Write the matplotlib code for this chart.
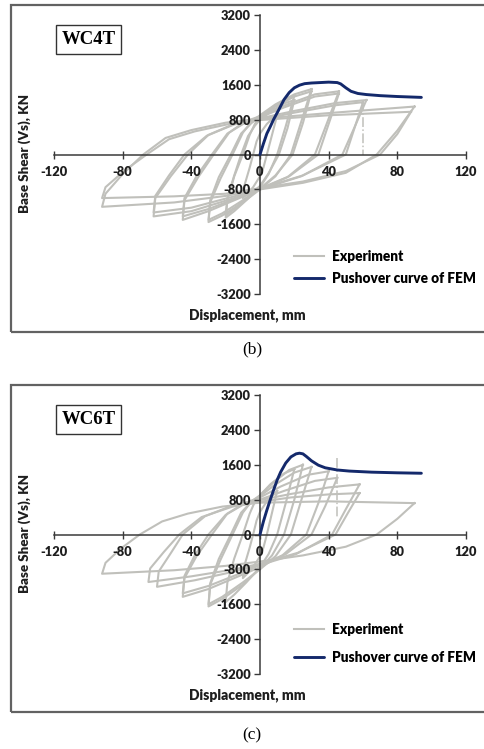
import matplotlib
matplotlib.use("Agg")
import matplotlib.pyplot as plt
from matplotlib.patches import Rectangle

# ---------------- data ----------------
x_ticks = [-120, -80, -40, 0, 40, 80, 120]
y_ticks = [-3200, -2400, -1600, -800, 0, 800, 1600, 2400, 3200]

# panel (b) WC4T : experimental hysteresis loops (disp mm, shear kN)
exp_b = [
    ([10, 7, 4, 2, 0, -4, -8, -10, -9, -6, -4, -2, 0, 4, 8, 10],
     [900, 450, 0, -300, -500, -750, -920, -1000, -700, -300, 0, 300, 480, 700, 850, 900]),
    ([20, 15, 10, 5, 0, -8, -15, -20, -19, -15, -10, -6, -3, 0, 6, 14, 20],
     [1350, 650, 0, -450, -750, -1050, -1300, -1450, -1050, -500, 0, 450, 700, 850, 1050, 1250, 1350]),
    ([20, 16, 11, 5, 0, -8, -15, -20, -19, -15, -11, -7, -3, 0, 6, 14, 20],
     [1250, 600, 0, -430, -720, -1000, -1250, -1400, -1000, -480, 0, 420, 660, 800, 980, 1170, 1250]),
    ([30, 24, 18, 9, 0, -10, -22, -30, -29, -23, -16, -10, -5, 0, 9, 20, 30],
     [1500, 750, 0, -500, -800, -1100, -1400, -1550, -1100, -550, 0, 500, 750, 900, 1150, 1380, 1500]),
    ([30, 25, 19, 9, 0, -10, -22, -30, -29, -24, -17, -11, -5, 0, 9, 20, 30],
     [1450, 720, 0, -480, -780, -1050, -1350, -1500, -1050, -520, 0, 480, 720, 860, 1100, 1330, 1450]),
    ([46, 39, 32, 16, 0, -12, -30, -45, -44, -36, -27, -18, -9, 0, 14, 32, 46],
     [1450, 720, 0, -520, -800, -1000, -1300, -1500, -1050, -520, 0, 500, 750, 880, 1120, 1380, 1450]),
    ([46, 40, 34, 17, 0, -12, -30, -45, -44, -37, -28, -19, -9, 0, 14, 32, 46],
     [1400, 700, 0, -500, -780, -980, -1250, -1420, -1000, -500, 0, 480, 720, 850, 1080, 1330, 1400]),
    ([62, 55, 48, 24, 0, -15, -40, -62, -61, -52, -42, -30, -14, 0, 20, 44, 62],
     [1250, 620, 0, -500, -800, -1000, -1300, -1420, -1000, -500, 0, 450, 720, 830, 1000, 1180, 1250]),
    ([60, 55, 50, 25, 0, -15, -40, -62, -61, -53, -44, -31, -15, 0, 20, 44, 60],
     [1200, 600, 0, -480, -780, -960, -1220, -1330, -950, -480, 0, 430, 690, 800, 960, 1130, 1200]),
    ([90, 80, 68, 50, 25, 0, -20, -50, -92, -90, -80, -68, -55, -40, -20, 0, 40, 90],
     [1100, 550, 0, -420, -650, -800, -950, -1100, -1200, -900, -450, 0, 380, 560, 730, 820, 950, 1100]),
    ([88, 80, 70, 50, 25, 0, -20, -50, -92, -90, -79, -66, -53, -38, -18, 0, 40, 88],
     [980, 470, 0, -380, -620, -770, -900, -960, -1000, -750, -370, 0, 350, 530, 700, 790, 900, 980]),
]
drop_b_x = [60, 60]
drop_b_y = [1220, 0]
push_b_x = [0, 2, 4, 6, 8, 11, 14, 17, 20, 23, 26, 30, 35, 40, 45, 47, 50, 53, 57, 62, 70, 80, 94]
push_b_y = [0, 250, 480, 640, 810, 1030, 1260, 1420, 1530, 1590, 1625, 1640, 1650, 1660,
            1650, 1620, 1530, 1450, 1400, 1375, 1350, 1330, 1310]

# panel (c) WC6T
exp_c = [
    ([10, 7, 4, 2, 0, -4, -8, -10, -9, -6, -4, -2, 0, 4, 8, 10],
     [1000, 500, 0, -300, -500, -750, -920, -1000, -700, -300, 0, 320, 520, 760, 930, 1000]),
    ([20, 15, 10, 5, 0, -8, -15, -20, -19, -15, -10, -6, -3, 0, 6, 14, 20],
     [1500, 720, 0, -450, -750, -1100, -1380, -1550, -1100, -550, 0, 480, 750, 900, 1150, 1400, 1500]),
    ([25, 20, 14, 7, 0, -10, -22, -30, -29, -23, -16, -10, -5, 0, 8, 17, 25],
     [1600, 800, 0, -480, -780, -1150, -1480, -1650, -1150, -580, 0, 500, 760, 900, 1200, 1480, 1600]),
    ([30, 24, 18, 9, 0, -10, -22, -30, -29, -24, -17, -11, -5, 0, 9, 20, 30],
     [1550, 780, 0, -500, -800, -1100, -1430, -1600, -1120, -560, 0, 500, 750, 880, 1150, 1420, 1550]),
    ([40, 34, 27, 13, 0, -12, -30, -45, -44, -37, -28, -19, -9, 0, 12, 28, 40],
     [1450, 720, 0, -480, -750, -950, -1250, -1430, -1000, -500, 0, 480, 720, 850, 1100, 1370, 1450]),
    ([45, 38, 30, 15, 0, -12, -30, -45, -44, -38, -30, -20, -10, 0, 14, 32, 45],
     [1300, 650, 0, -450, -700, -900, -1180, -1350, -950, -480, 0, 450, 680, 800, 1000, 1230, 1300]),
    ([58, 50, 42, 21, 0, -15, -38, -60, -59, -52, -45, -32, -15, 0, 18, 40, 58],
     [1150, 580, 0, -450, -700, -850, -1050, -1200, -850, -430, 0, 420, 680, 790, 930, 1080, 1150]),
    ([58, 51, 44, 22, 0, -15, -40, -65, -64, -56, -47, -34, -16, 0, 18, 40, 58],
     [950, 480, 0, -420, -670, -800, -960, -1090, -780, -400, 0, 400, 640, 750, 850, 920, 950]),
    ([90, 80, 68, 50, 25, 0, -20, -50, -92, -90, -81, -70, -57, -42, -22, 0, 40, 90],
     [720, 360, 0, -280, -480, -620, -720, -820, -900, -650, -320, 0, 300, 480, 640, 730, 760, 720]),
]
drop_c_x = [45, 45]
drop_c_y = [1766, 400]
push_c_x = [0, 2, 4, 6, 8, 10, 12, 15, 18, 21, 23, 25, 27, 30, 34, 38, 45, 52, 65, 80, 94]
push_c_y = [0, 300, 560, 800, 1030, 1250, 1430, 1640, 1780, 1850, 1865, 1850, 1790, 1690,
            1590, 1530, 1480, 1455, 1430, 1415, 1405]

labels = ["Experiment", "Pushover curve of FEM"]

# ---------------- figure ----------------
W, H = 484, 749
fig = plt.figure(figsize=(W / 100, H / 100), dpi=100)
fig.patch.set_facecolor("white")

EXP_COLOR = "#c0c0bb"
FEM_COLOR = "#14296b"
AX_COLOR = "#3a3a3a"
TXT_COLOR = "#1e1e1e"
SANS = "Lato"
SERIF = "Liberation Serif"


def fx(px):
    return px / W


def fy(py):
    return 1 - py / H


def draw_panel(top, name, loops, drop_x, drop_y, push_x, push_y, caption, cap_y, leg_mid, leg_space):
    # outer grey frame (its right side runs off the picture)
    fig.patches.append(Rectangle((fx(11), fy(top + 327)), (495 - 11) / W, 327 / H,
                                 transform=fig.transFigure, fill=False,
                                 ec="#626262", lw=1.6))
    ax = fig.add_axes([fx(54), fy(top + 289), 412 / W, 279 / H])
    ax.set_xlim(-120, 120)
    ax.set_ylim(-3200, 3200)
    ax.patch.set_alpha(0)
    ax.set_axisbelow(False)  # tick labels sit over the grey loops

    for xs, ys in loops:
        exp_line, = ax.plot(xs, ys, color=EXP_COLOR, lw=1.5, zorder=2,
                            solid_joinstyle="round")
    ax.plot(drop_x, drop_y, color=EXP_COLOR, lw=1.1, ls="-.", zorder=2)
    push_line, = ax.plot(push_x, push_y, color=FEM_COLOR, lw=2.1, zorder=3,
                         solid_capstyle="round", solid_joinstyle="round")

    ax.spines["left"].set_position("zero")
    ax.spines["bottom"].set_position("zero")
    ax.spines["top"].set_visible(False)
    ax.spines["right"].set_visible(False)
    for s in ("left", "bottom"):
        ax.spines[s].set_color(AX_COLOR)
        ax.spines[s].set_linewidth(1.1)

    ax.set_xticks(x_ticks)
    ax.set_yticks(y_ticks)
    ax.set_xticklabels([str(v) for v in x_ticks])
    ax.set_yticklabels([str(v) for v in y_ticks])
    ax.tick_params(axis="x", direction="inout", length=6, width=1.0, color=AX_COLOR, pad=5)
    ax.tick_params(axis="y", direction="out", length=4, width=1.0, color=AX_COLOR, pad=2.5)
    for lab in ax.get_xticklabels() + ax.get_yticklabels():
        lab.set_fontfamily(SANS)
        lab.set_fontweight("heavy")
        lab.set_fontsize(9.3)
        lab.set_color(TXT_COLOR)

    fig.text(fx(25), fy(top + 148), "Base Shear (Vs), KN", rotation=90,
             ha="center", va="center", fontfamily=SANS, fontweight="heavy",
             fontsize=9.6, color=TXT_COLOR)
    fig.text(fx(247), fy(top + 310), "Displacement, mm", ha="center", va="center",
             fontfamily=SANS, fontweight="heavy", fontsize=10, color=TXT_COLOR)
    fig.text(fx(88.5), fy(top + 34.5), name, ha="center", va="center",
             fontfamily=SERIF, fontweight="bold", fontsize=13.5,
             bbox=dict(boxstyle="square,pad=0.3", fc="white", ec="#333333", lw=1.0))
    fig.text(fx(252), fy(cap_y), caption, ha="center", va="center",
             fontfamily=SERIF, fontsize=12.5)

    ax.legend([exp_line, push_line], labels, loc="center left",
              bbox_to_anchor=(fx(294), fy(top + leg_mid)), bbox_transform=fig.transFigure,
              frameon=False, borderpad=0, borderaxespad=0, handlelength=2.2,
              handletextpad=0.6, labelspacing=leg_space,
              prop=dict(family=SANS, weight="heavy", size=9.8))
    return ax


draw_panel(5, "WC4T", exp_b, drop_b_x, drop_b_y, push_b_x, push_b_y, "(b)", 349, 262.5, 0.65)
draw_panel(385, "WC6T", exp_c, drop_c_x, drop_c_y, push_c_x, push_c_y, "(c)", 735, 258.5, 1.1)

fig.savefig("out.png", dpi=100)
